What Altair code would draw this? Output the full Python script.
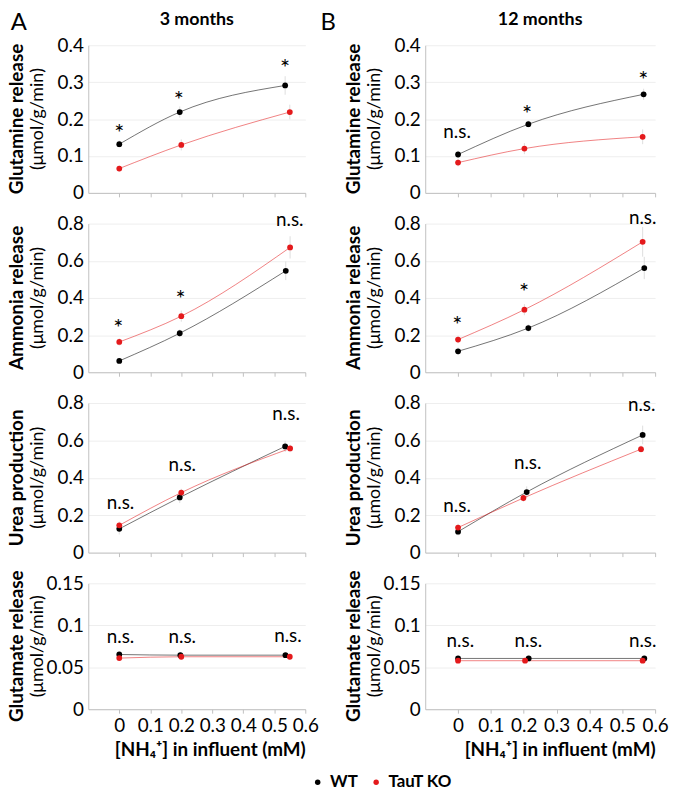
import altair as alt
import pandas as pd

FONT = "Lato"
SERIES = ["WT", "TauT KO"]
POINT_COLORS = ["#000000", "#e41a1c"]
METRICS = ["Glutamine release", "Ammonia release", "Urea production", "Glutamate release"]
UNIT = "(μmol/g/min)"
AGES = ["3 months", "12 months"]
LETTERS = ["A", "B"]
X_TITLE = "[NH₄⁺] in influent (mM)"
X_TICKS = [0, 0.1, 0.2, 0.3, 0.4, 0.5, 0.6]
Y_TICKS = [[0, 0.1, 0.2, 0.3, 0.4], [0, 0.2, 0.4, 0.6, 0.8], [0, 0.2, 0.4, 0.6, 0.8], [0, 0.05, 0.1, 0.15]]
Y_MAX = [0.4, 0.8, 0.8, 0.15]

# ---- 3 months (panel A); one inner list per metric ----
x_3m_wt = [[0, 0.195, 0.535], [0, 0.195, 0.537], [0, 0.195, 0.535], [0, 0.197, 0.536]]
x_3m_ko = [[0, 0.2, 0.55], [0, 0.2, 0.551], [0, 0.2, 0.551], [0, 0.2, 0.55]]
y_3m_wt = [[0.132, 0.219, 0.291], [0.061, 0.210, 0.546], [0.127, 0.295, 0.568], [0.0652, 0.0644, 0.0644]]
y_3m_ko = [[0.066, 0.130, 0.219], [0.163, 0.302, 0.672], [0.146, 0.321, 0.557], [0.0609, 0.0625, 0.0625]]
e_3m_wt = [[0.01, 0.015, 0.025], [0.01, 0.02, 0.05], [0.03, 0.03, 0.03], [0.003, 0.003, 0.003]]
e_3m_ko = [[0.008, 0.015, 0.02], [0.02, 0.03, 0.06], [0.02, 0.02, 0.02], [0.003, 0.003, 0.003]]
ann_3m_x = [[0, 0.192, 0.535], [-0.003, 0.198, 0.55], [0.004, 0.203, 0.538], [0.004, 0.203, 0.544]]
ann_3m_y = [[0.172, 0.262, 0.348], [0.259, 0.415, 0.819], [0.266, 0.466, 0.739], [0.0863, 0.0855, 0.0875]]
ann_3m_t = [["*", "*", "*"], ["*", "*", "n.s."], ["n.s.", "n.s.", "n.s."], ["n.s.", "n.s.", "n.s."]]

# ---- 12 months (panel B) ----
x_12m_wt = [[0, 0.214, 0.565], [0, 0.214, 0.567], [0, 0.209, 0.562], [0, 0.215, 0.567]]
x_12m_ko = [[0, 0.202, 0.562], [0, 0.202, 0.562], [0, 0.199, 0.557], [0, 0.204, 0.562]]
y_12m_wt = [[0.104, 0.186, 0.267], [0.113, 0.238, 0.561], [0.112, 0.324, 0.629], [0.0605, 0.0605, 0.0605]]
y_12m_ko = [[0.082, 0.120, 0.152], [0.176, 0.337, 0.702], [0.134, 0.292, 0.553], [0.0578, 0.0578, 0.0578]]
e_12m_wt = [[0.01, 0.01, 0.015], [0.02, 0.02, 0.06], [0.02, 0.03, 0.05], [0.002, 0.002, 0.002]]
e_12m_ko = [[0.01, 0.015, 0.02], [0.02, 0.03, 0.08], [0.02, 0.02, 0.02], [0.002, 0.002, 0.002]]
ann_12m_x = [[-0.003, 0.21, 0.564], [-0.002, 0.201, 0.562], [-0.003, 0.212, 0.559], [0.007, 0.214, 0.562]]
ann_12m_y = [[0.164, 0.224, 0.315], [0.275, 0.452, 0.831], [0.248, 0.479, 0.791], [0.0809, 0.0809, 0.0809]]
ann_12m_t = [["n.s.", "*", "*"], ["*", "*", "n.s."], ["n.s.", "n.s.", "n.s."], ["n.s.", "n.s.", "n.s."]]

AGE_DATA = [
    (x_3m_wt, x_3m_ko, y_3m_wt, y_3m_ko, e_3m_wt, e_3m_ko, ann_3m_x, ann_3m_y, ann_3m_t),
    (x_12m_wt, x_12m_ko, y_12m_wt, y_12m_ko, e_12m_wt, e_12m_ko, ann_12m_x, ann_12m_y, ann_12m_t),
]

WIDTHS = [219, 232]
HEIGHTS = [149, 150, 151, 127]
LETTER_X = [-70, -98]
LABEL_EXPR = "format(datum.value, '.2~f')"

LEGEND = alt.Legend(
    orient="none", legendX=223, legendY=735, direction="horizontal", title=None,
    labelFont=FONT, labelFontSize=17, labelFontWeight="bold", labelColor="black",
    symbolType="circle", symbolSize=30, symbolStrokeWidth=0, symbolOpacity=1,
    columnPadding=9, labelOffset=4, padding=0,
)
COLOR_SCALE = alt.Scale(domain=SERIES, range=POINT_COLORS)


def panel(a, m):
    xw, xk, yw, yk, ew, ek, ax, ay, at = AGE_DATA[a]
    rows = []
    for s, xs, ys, es in ((SERIES[0], xw[m], yw[m], ew[m]), (SERIES[1], xk[m], yk[m], ek[m])):
        for i in range(len(xs)):
            rows.append({"series": s, "x": xs[i], "y": ys[i], "lo": ys[i] - es[i], "hi": ys[i] + es[i]})
    df = pd.DataFrame(rows)
    ann = pd.DataFrame({"x": ax[m], "y": ay[m], "label": at[m]})
    w, h = WIDTHS[a], HEIGHTS[m]
    last = m == 3

    xscale = alt.Scale(domain=[-0.1, 0.6], nice=False, zero=False)
    yscale = alt.Scale(domain=[0, Y_MAX[m]], nice=False)
    if last:
        xaxis = alt.Axis(values=X_TICKS, labels=True, labelFontSize=19, labelFlush=False,
                         labelOverlap=False, labelPadding=4, ticks=True, tickSize=4, grid=False,
                         title=X_TITLE, titleFontSize=19, titleFontWeight="bold",
                         titleAnchor="end", titlePadding=5, labelExpr=LABEL_EXPR)
    else:
        xaxis = alt.Axis(values=X_TICKS, labels=False, ticks=True, tickSize=4, grid=False, title=None)
    yaxis = alt.Axis(values=Y_TICKS[m], labelExpr=LABEL_EXPR, labelFontSize=19, labelPadding=5,
                     ticks=False, grid=True, title=None, labelOverlap=False)

    X = alt.X("x:Q", scale=xscale, axis=xaxis)
    Y = alt.Y("y:Q", scale=yscale, axis=yaxis)
    C = alt.Color("series:N", scale=COLOR_SCALE, legend=LEGEND)

    base = alt.Chart(df)
    err = base.mark_rule(color="#dedede", strokeWidth=1).encode(
        x=X, y=alt.Y("lo:Q", scale=yscale, axis=yaxis), y2="hi:Q")
    line = base.mark_line(strokeWidth=1, interpolate="monotone", opacity=0.55).encode(x=X, y=Y, color=C)
    pts = base.mark_circle(size=34, opacity=1).encode(x=X, y=Y, color=C)
    abase = alt.Chart(ann)
    ns = abase.transform_filter("datum.label != '*'").mark_text(
        font=FONT, fontSize=19, color="black", baseline="middle"
    ).encode(x=X, y=Y, text="label:N")
    star = abase.transform_filter("datum.label == '*'").mark_text(
        font=FONT, fontSize=24, color="black", baseline="middle", dy=5
    ).encode(x=X, y=Y, text="label:N")
    t1 = alt.Chart(pd.DataFrame({"t": [METRICS[m]]})).mark_text(
        angle=270, font=FONT, fontSize=19, fontWeight="bold", color="black"
    ).encode(x=alt.value(-72), y=alt.value(h / 2), text="t:N")
    t2 = alt.Chart(pd.DataFrame({"t": [UNIT]})).mark_text(
        angle=270, font=FONT, fontSize=18, color="black"
    ).encode(x=alt.value(-51), y=alt.value(h / 2), text="t:N")
    layers = [err, line, pts, ns, star, t1, t2]
    if m == 0:
        letter = alt.Chart(pd.DataFrame({"t": [LETTERS[a]]})).mark_text(
            font=FONT, fontSize=24, color="black"
        ).encode(x=alt.value(LETTER_X[a]), y=alt.value(-22), text="t:N")
        age = alt.Chart(pd.DataFrame({"t": [AGES[a]]})).mark_text(
            font=FONT, fontSize=18, fontWeight="bold", color="black"
        ).encode(x=alt.value(w / 2), y=alt.value(-25), text="t:N")
        layers += [letter, age]
    return alt.layer(*layers).properties(width=w, height=h)


panels = [panel(a, m) for m in range(4) for a in range(2)]
chart = alt.concat(
    *panels, columns=2, spacing={"row": 31, "column": 121}, bounds="flush", align="each"
).properties(
    padding=0
).configure_view(stroke=None).configure_axis(
    labelFont=FONT, titleFont=FONT, labelColor="black", titleColor="black",
    domainColor="#c0c0c0", tickColor="#c0c0c0", gridColor="#eeeeee", labelOverlap=False,
)

chart.save("out.html", embed_options={"renderer": "svg", "actions": False})
